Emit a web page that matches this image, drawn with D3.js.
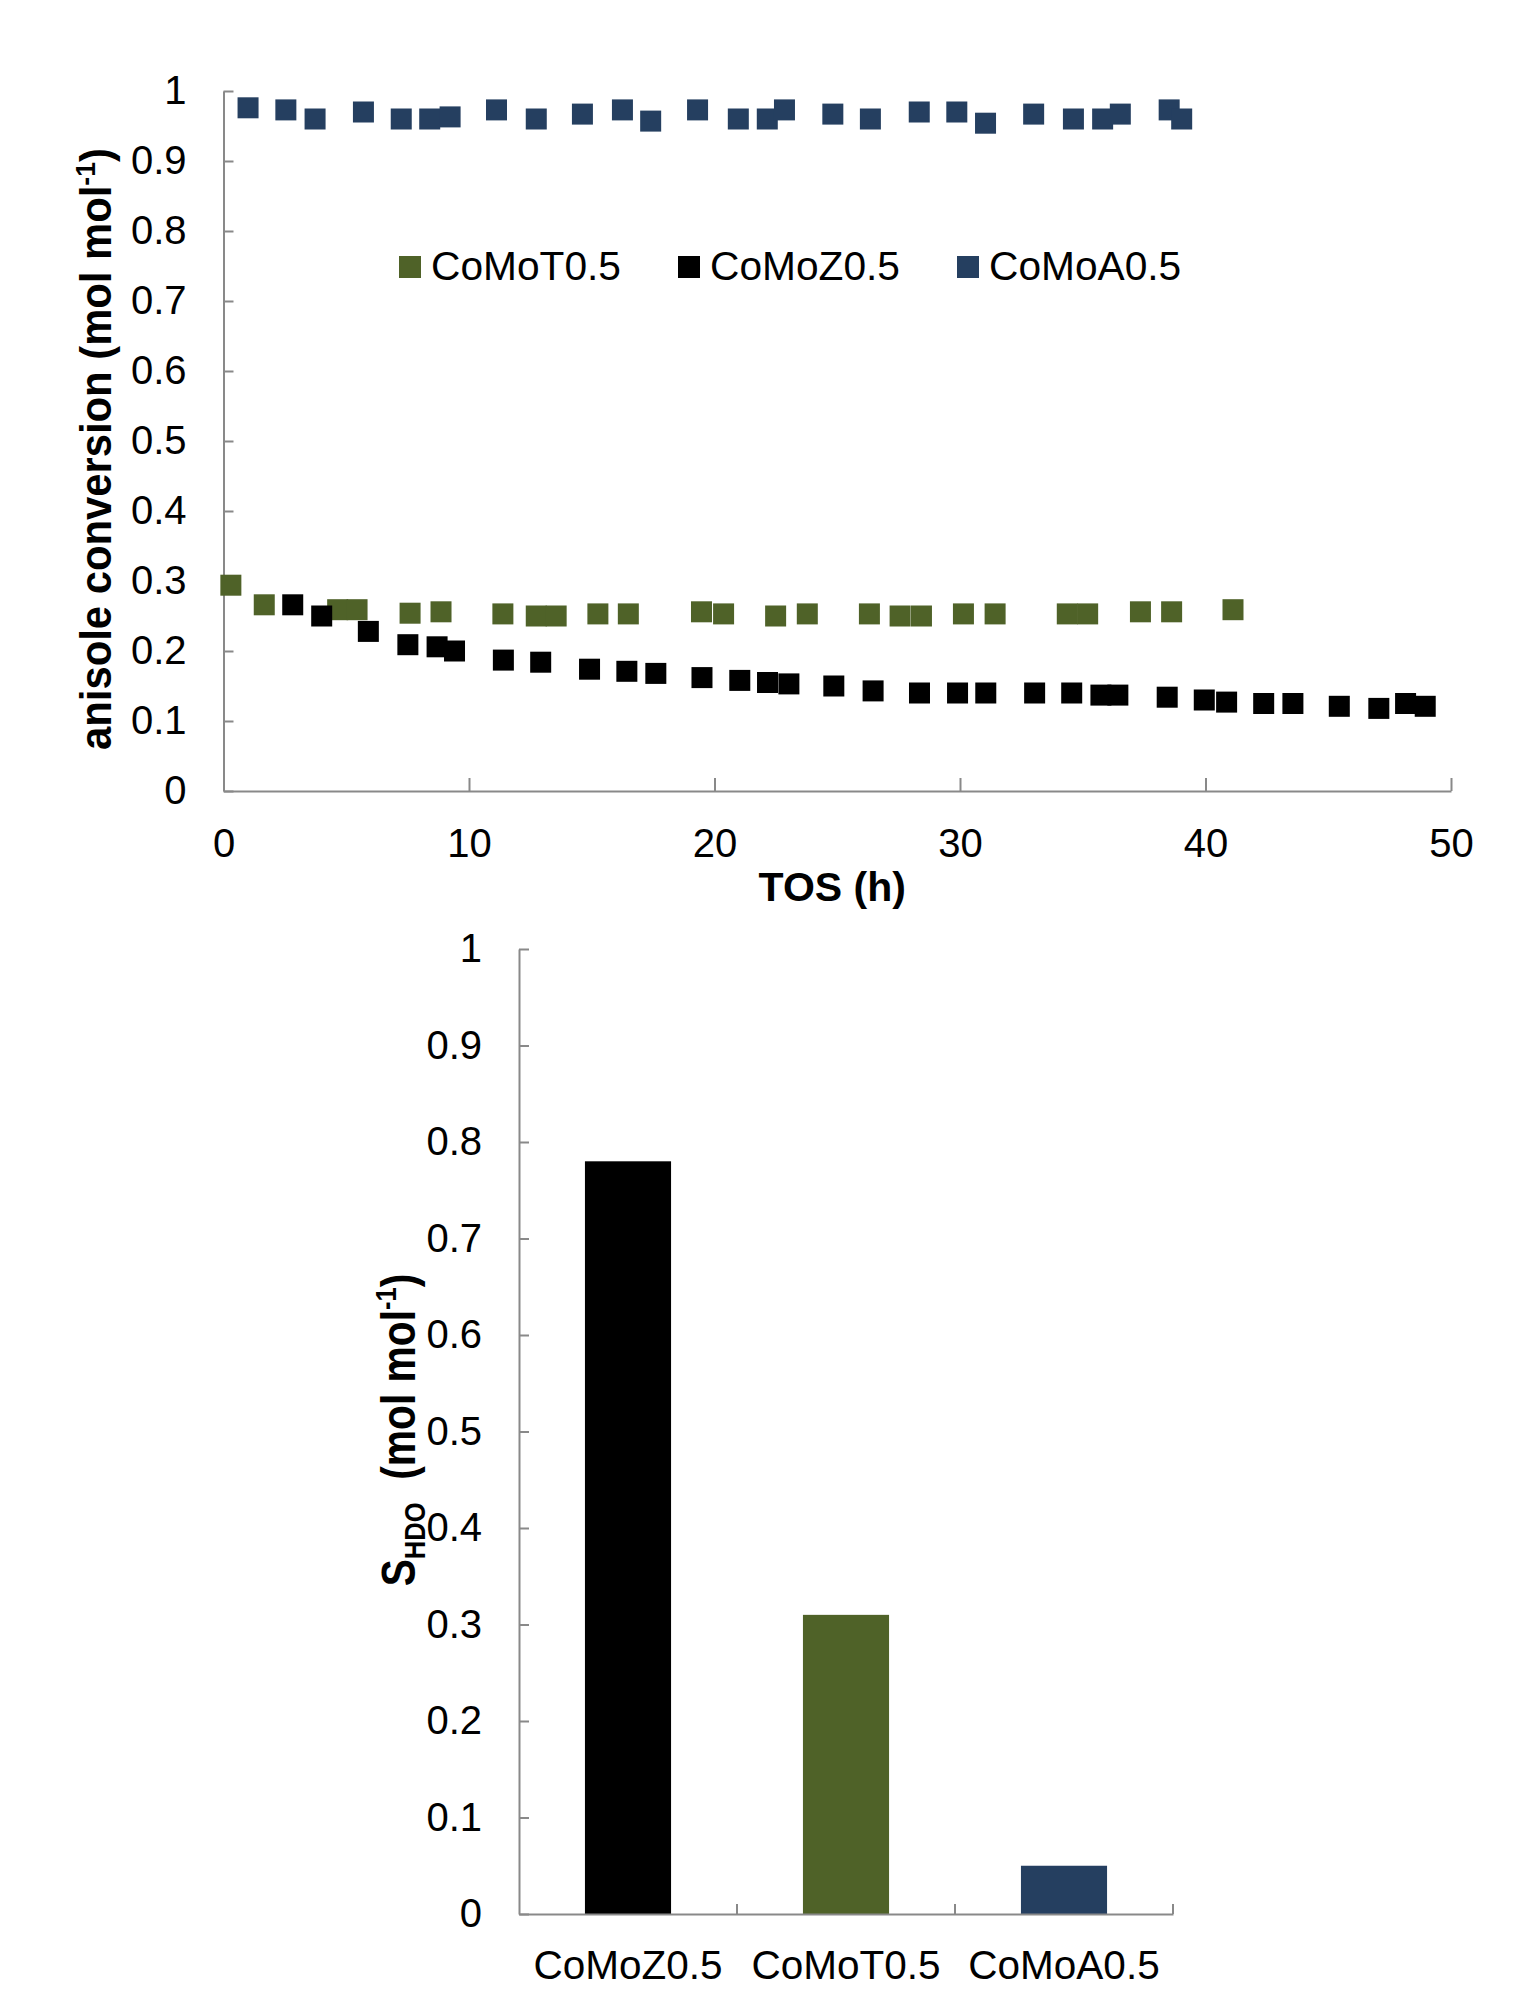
<!DOCTYPE html>
<html>
<head>
<meta charset="utf-8">
<script src="https://cdn.jsdelivr.net/npm/d3@7"></script>
<style>
  html, body { margin: 0; padding: 0; background: #fff; }
  svg { display: block; }
  text { font-family: "Liberation Sans", Arial, sans-serif; fill: #000; }
</style>
</head>
<body>
<svg id="chart" width="1526" height="1998"></svg>
<script>
// ---------- data: top scatter chart ----------
const seriesNames = ["CoMoT0.5", "CoMoZ0.5", "CoMoA0.5"];
const seriesColors = ["#4F6228", "#000000", "#253F60"];

const tosT = [0.3, 1.66, 4.65, 5.44, 7.6, 8.86, 11.38, 12.74, 13.55, 15.25, 16.49, 19.47, 20.37,
              22.49, 23.78, 26.31, 27.56, 28.43, 30.14, 31.43, 34.37, 35.2, 37.35, 38.62, 41.12];
const convT = [0.294, 0.266, 0.259, 0.259, 0.254, 0.256, 0.253, 0.250, 0.250, 0.253, 0.253, 0.256, 0.253,
               0.250, 0.253, 0.253, 0.250, 0.250, 0.253, 0.253, 0.253, 0.253, 0.256, 0.256, 0.259];

const tosZ = [2.82, 4.0, 5.9, 7.51, 8.70, 9.41, 11.4, 12.92, 14.91, 16.43, 17.61, 19.49, 21.03,
              22.16, 23.03, 24.86, 26.46, 28.35, 29.9, 31.05, 33.04, 34.55, 35.74, 36.43, 38.44,
              39.95, 40.86, 42.37, 43.56, 45.45, 47.06, 48.15, 48.95];
const convZ = [0.266, 0.250, 0.228, 0.209, 0.206, 0.200, 0.187, 0.184, 0.174, 0.171, 0.168, 0.162, 0.158,
               0.155, 0.153, 0.150, 0.143, 0.140, 0.140, 0.140, 0.140, 0.140, 0.137, 0.137, 0.134,
               0.130, 0.127, 0.125, 0.125, 0.121, 0.118, 0.125, 0.121];

const tosA = [1.0, 2.54, 3.73, 5.7, 7.24, 8.4, 9.23, 11.12, 12.74, 14.62, 16.25, 17.4, 19.31, 20.97,
              22.15, 22.85, 24.82, 26.35, 28.34, 29.87, 31.04, 33.0, 34.62, 35.81, 36.53, 38.52, 39.03];
const convA = [0.976, 0.973, 0.960, 0.970, 0.960, 0.960, 0.963, 0.973, 0.960, 0.967, 0.973, 0.957, 0.973, 0.960,
               0.960, 0.973, 0.967, 0.960, 0.970, 0.970, 0.954, 0.967, 0.960, 0.960, 0.967, 0.973, 0.960];

const topXTicks = [0, 10, 20, 30, 40, 50];
const topYTicks = [0, 0.1, 0.2, 0.3, 0.4, 0.5, 0.6, 0.7, 0.8, 0.9, 1];

// ---------- data: bottom bar chart ----------
const barCategories = ["CoMoZ0.5", "CoMoT0.5", "CoMoA0.5"];
const barValues = [0.78, 0.31, 0.05];
const barColors = ["#000000", "#4F6228", "#253F60"];
const botYTicks = [0, 0.1, 0.2, 0.3, 0.4, 0.5, 0.6, 0.7, 0.8, 0.9, 1];

// ---------- drawing ----------
const svg = d3.select("#chart");
svg.append("rect").attr("width", 1526).attr("height", 1998).attr("fill", "#fff");

const AXIS = "#898989";
const fmt = d => String(+d.toFixed(1));

function styleAxis(g, fs) {
  g.selectAll("path.domain").attr("stroke", AXIS).attr("stroke-width", 2);
  g.selectAll(".tick line").attr("stroke", AXIS).attr("stroke-width", 2);
  g.selectAll(".tick text").attr("font-size", fs || 40).attr("font-family", '"Liberation Sans", Arial, sans-serif').attr("fill", "#000");
}

// ===== Top chart =====
const x1 = d3.scaleLinear().domain([0, 50]).range([223.5, 1451]);
const y1 = d3.scaleLinear().domain([0, 1]).range([791, 91]);

const gx1 = svg.append("g").attr("transform", `translate(0,${y1(0)})`)
  .call(d3.axisBottom(x1).tickValues(topXTicks).tickFormat(d => String(d))
        .tickSizeInner(-13).tickSizeOuter(0).tickPadding(37.5));
styleAxis(gx1);

const gy1 = svg.append("g").attr("transform", `translate(${x1(0)},0)`)
  .call(d3.axisLeft(y1).tickValues(topYTicks).tickFormat(fmt)
        .tickSizeInner(-10).tickSizeOuter(0).tickPadding(37));
styleAxis(gy1);

const seriesData = [
  tosT.map((t, i) => ({ t, v: convT[i] })),
  tosZ.map((t, i) => ({ t, v: convZ[i] })),
  tosA.map((t, i) => ({ t, v: convA[i] }))
];
const MS = 21;
seriesData.forEach((data, si) => {
  svg.append("g").selectAll("rect").data(data).join("rect")
    .attr("x", d => x1(d.t) - MS / 2)
    .attr("y", d => y1(d.v) - MS / 2)
    .attr("width", MS).attr("height", MS)
    .attr("fill", seriesColors[si]);
});

// legend
const legend = svg.append("g").attr("transform", "translate(399,256)");
seriesNames.forEach((name, i) => {
  const g = legend.append("g").attr("transform", `translate(${i * 279},0)`);
  g.append("rect").attr("width", 22).attr("height", 22).attr("fill", seriesColors[i]);
  g.append("text").attr("x", 32).attr("y", 24).attr("font-size", 40.7).text(name);
});

// axis titles
svg.append("text")
  .attr("text-anchor", "middle").attr("font-size", 41).attr("font-weight", "bold")
  .attr("x", x1(25) - 5).attr("y", 901)
  .text("TOS (h)");

const yt1 = svg.append("text")
  .attr("text-anchor", "middle").attr("font-size", 44).attr("font-weight", "bold")
  .attr("transform", "translate(111,449) rotate(-90) scale(0.95,1)");
yt1.append("tspan").text("anisole conversion (mol mol");
yt1.append("tspan").attr("font-size", 28).attr("dy", -16).text("-1");
yt1.append("tspan").attr("dy", 16).text(")");

// ===== Bottom chart =====
const xb = d3.scaleBand().domain(barCategories).range([519, 1173]).padding(0);
const yb = d3.scaleLinear().domain([0, 1]).range([1914, 949]);
const barW = xb.step() * 0.395;

svg.append("g").selectAll("rect").data(barCategories).join("rect")
  .attr("x", d => xb(d) + xb.bandwidth() / 2 - barW / 2)
  .attr("y", (d, i) => yb(barValues[i]))
  .attr("width", barW)
  .attr("height", (d, i) => yb(0) - yb(barValues[i]))
  .attr("fill", (d, i) => barColors[i]);

const gxb = svg.append("g").attr("transform", `translate(0,${yb(0)})`)
  .call(d3.axisBottom(xb).tickSizeInner(0).tickSizeOuter(0).tickPadding(36.5));
styleAxis(gxb, 40.5);
// category boundary ticks
gxb.append("g").selectAll("line").data(barCategories).join("line")
  .attr("x1", d => xb(d) + xb.step()).attr("x2", d => xb(d) + xb.step())
  .attr("y1", 0).attr("y2", -10)
  .attr("stroke", AXIS).attr("stroke-width", 2);

const gyb = svg.append("g").attr("transform", `translate(${xb.range()[0]},0)`)
  .call(d3.axisLeft(yb).tickValues(botYTicks).tickFormat(fmt)
        .tickSizeInner(-10).tickSizeOuter(0).tickPadding(37));
styleAxis(gyb);

const yt2 = svg.append("text")
  .attr("text-anchor", "middle").attr("font-size", 48).attr("font-weight", "bold")
  .attr("transform", "translate(415,1430) rotate(-90) scale(0.85,1)");
yt2.append("tspan").text("S");
yt2.append("tspan").attr("font-size", 30).attr("dy", 10).text("HDO");
yt2.append("tspan").attr("dy", -10).text("  (mol mol").attr("xml:space", "preserve");
yt2.append("tspan").attr("font-size", 30).attr("dy", -19).text("-1");
yt2.append("tspan").attr("dy", 19).text(")");
</script>
</body>
</html>
